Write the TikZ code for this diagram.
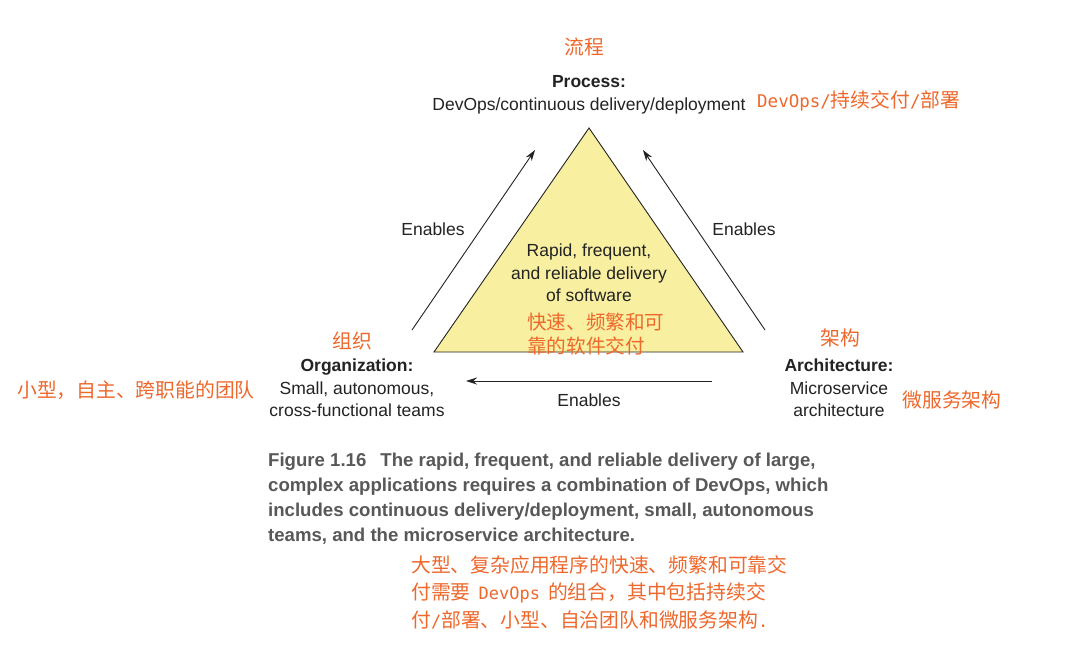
\documentclass[tikz,border=0pt]{standalone}
\usepackage{fontspec}
\setmainfont{Liberation Sans}
\newfontfamily\cjk{Noto Sans CJK SC}
\newfontfamily\mono{DejaVu Sans Mono}
\newfontfamily\capfont{Liberation Sans}
\usetikzlibrary{arrows.meta}
\definecolor{tri}{RGB}{248,240,160}
\definecolor{ink}{RGB}{35,35,35}
\definecolor{zh}{RGB}{238,104,44}
\definecolor{capgray}{RGB}{88,88,88}
\tikzset{
  lbl/.style={text=ink, font=\fontsize{17.5}{22.5}\selectfont, align=center, inner sep=0pt},
  zhlbl/.style={text=zh, font=\fontsize{19.8}{27.5}\selectfont\cjk, inner sep=0pt},
  enarrow/.style={draw=ink, line width=0.9pt, -{Stealth[length=11pt,width=7pt]}},
}
\begin{document}
\begin{tikzpicture}[x=1pt,y=-1pt]
\useasboundingbox (0,0) rectangle (1085,662);
\fill[white] (0,0) rectangle (1085,662);
% triangle
\coordinate (apex) at (589,128);
\coordinate (bl) at (434,352);
\coordinate (br) at (743,352);
\filldraw[fill=tri, draw=ink, line width=0.9pt, line join=miter] (apex) -- (bl) -- (br) -- cycle;
% arrow end points
\coordinate (la1) at (412,330); \coordinate (la2) at (535,150);
\coordinate (ra1) at (765,330); \coordinate (ra2) at (643,150);
\coordinate (ba1) at (712,381); \coordinate (ba2) at (466,381);
\draw[enarrow] (la1) -- (la2);
\draw[enarrow] (ra1) -- (ra2);
\draw[enarrow] (ba1) -- (ba2);
\node[lbl] (en1) at (433,229) {Enables};
\node[lbl] (en2) at (744,229) {Enables};
\node[lbl] (en3) at (589,400) {Enables};
% Process
\node[zhlbl] (proczh) at (584,47) {流程};
\node[lbl] (proc) at (589,95) {\textbf{Process:}\\DevOps/continuous delivery/deployment};
\node[zhlbl, anchor=west] (proczh2) at (757,101) {{\mono\fontsize{17.5}{20}\selectfont DevOps/}持续交付{\mono\fontsize{17.5}{20}\selectfont /}部署};
% centre
\node[lbl] (centre) at (589,273) {Rapid, frequent,\\and reliable delivery\\of software};
\node[zhlbl, anchor=west, align=left, font=\fontsize{19.6}{24}\selectfont\cjk] (centrezh) at (527,334) {快速、频繁和可\\靠的软件交付};
% Organization
\node[zhlbl] (orgzh) at (352,341) {组织};
\node[lbl] (org) at (357,388) {\textbf{Organization:}\\Small, autonomous,\\cross-functional teams};
\node[zhlbl] (orgzh2) at (136,390) {小型，自主、跨职能的团队};
% Architecture
\node[zhlbl] (archzh) at (840,338) {架构};
\node[lbl] (arch) at (839,388) {\textbf{Architecture:}\\Microservice\\architecture};
\node[zhlbl] (archzh2) at (952,400) {微服务架构};
% caption
\node[anchor=north west, inner sep=0pt, align=left, text=capgray, font=\fontsize{18.6}{24.8}\selectfont\capfont\bfseries] (cap) at (268,453)
 {Figure 1.16\hspace{14pt}The rapid, frequent, and reliable delivery of large,\\
  complex applications requires a combination of DevOps, which\\
  includes continuous delivery/deployment, small, autonomous\\
  teams, and the microservice architecture.};
\node[zhlbl, anchor=north west, align=left] (capzh) at (411,555)
 {大型、复杂应用程序的快速、频繁和可靠交\\
  付需要\hspace{8pt}{\mono\fontsize{17}{20}\selectfont DevOps}\hspace{8pt}的组合，其中包括持续交\\
  付{\mono\fontsize{17}{20}\selectfont /}部署、小型、自治团队和微服务架构{\mono\fontsize{17}{20}\selectfont .}};
\end{tikzpicture}
\end{document}
